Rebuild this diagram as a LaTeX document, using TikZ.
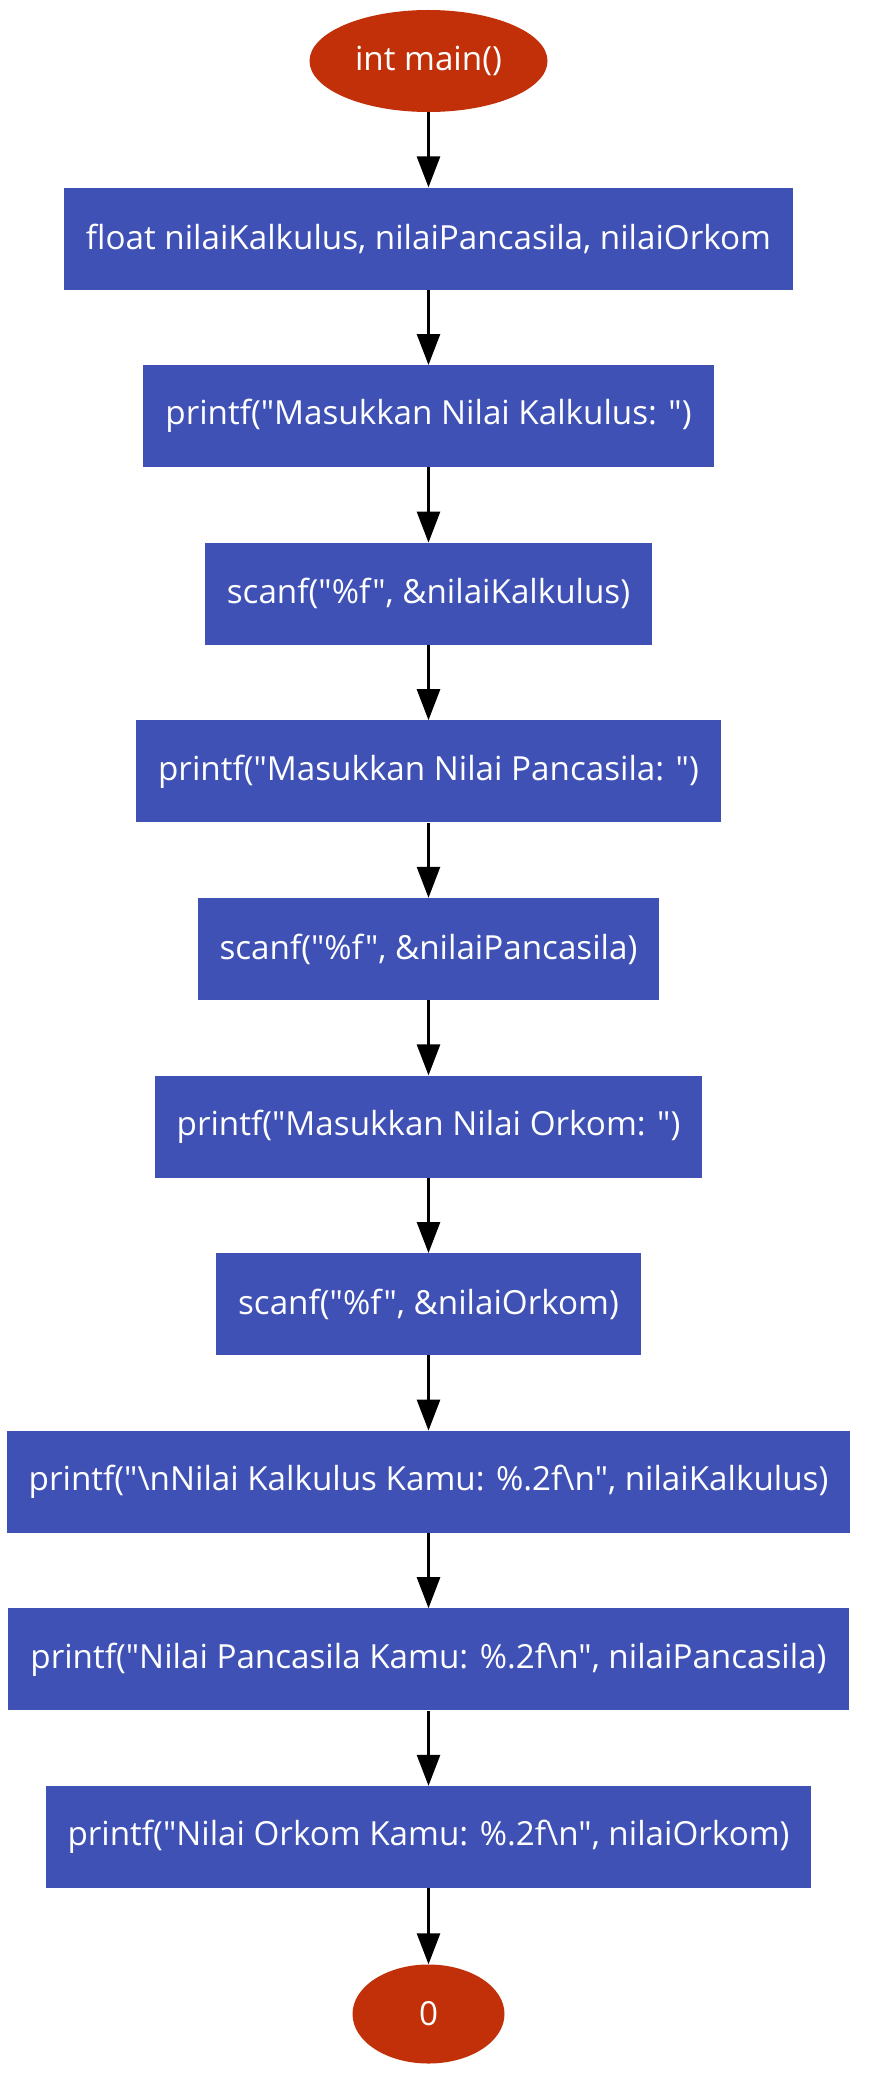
\documentclass[tikz,border=0pt]{standalone}
\usepackage{fontspec}
\setmainfont{Open Sans}[Ligatures=TeXOff]
\usetikzlibrary{arrows.meta,shapes.geometric}
\definecolor{termred}{HTML}{C2300A}
\definecolor{stmtblue}{HTML}{3F51B5}

\begin{document}
\begin{tikzpicture}[x=1pt, y=-1pt, every node/.style={font=\fontsize{33.2}{39}\selectfont, text=white},
	terminal/.style={ellipse, fill=termred, inner sep=0pt},
	stmt/.style={rectangle, fill=stmtblue, minimum height=102pt, inner xsep=22pt},
	flow/.style={-{Triangle[length=31pt, width=23pt]}, line width=2.7pt}]
	\useasboundingbox (0,0) rectangle (872,2092);
	\node[terminal, minimum width=238pt, minimum height=102pt] (b0) at (428.5,61) {int main()};
	\foreach \i/\txt in {1/{float nilaiKalkulus, nilaiPancasila, nilaiOrkom},
		2/{printf("Masukkan Nilai Kalkulus: ")},
		3/{scanf("\%f", \&nilaiKalkulus)},
		4/{printf("Masukkan Nilai Pancasila: ")},
		5/{scanf("\%f", \&nilaiPancasila)},
		6/{printf("Masukkan Nilai Orkom: ")},
		7/{scanf("\%f", \&nilaiOrkom)},
		8/{printf("\textbackslash nNilai Kalkulus Kamu: \%.2f\textbackslash n", nilaiKalkulus)},
		9/{printf("Nilai Pancasila Kamu: \%.2f\textbackslash n", nilaiPancasila)},
		10/{printf("Nilai Orkom Kamu: \%.2f\textbackslash n", nilaiOrkom)}} {
		\node[stmt] (b\i) at (428.5,{61+177.6*\i}) {\txt};
	}
	\node[terminal, minimum width=152pt, minimum height=99pt] (b11) at (428.5,2014) {0};
	\foreach \i [evaluate=\i as \j using int(\i+1)] in {0,...,10}
		\draw[flow] (b\i) -- (b\j);
\end{tikzpicture}
\end{document}
